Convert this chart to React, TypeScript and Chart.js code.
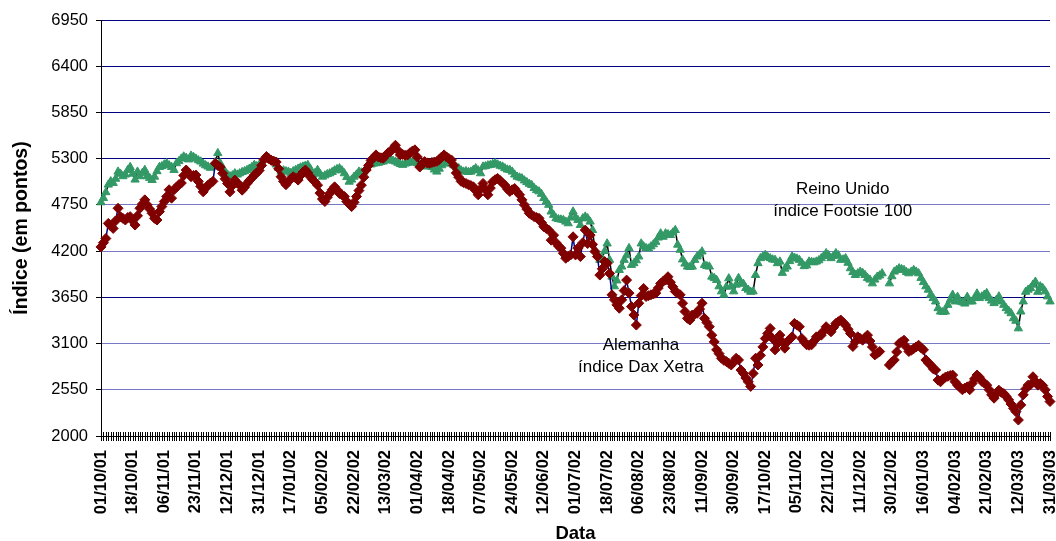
import React, { useEffect, useRef } from 'react';
import { Chart, registerables } from 'chart.js';

Chart.register(...registerables);

// ---- Data -------------------------------------------------------------
const START_DATE = [2001, 9, 1]; // 01/10/01, weekdays only
const TICK_EVERY = 13;
const TICK_LABELS = [
  '01/10/01', '18/10/01', '06/11/01', '23/11/01', '12/12/01', '31/12/01',
  '17/01/02', '05/02/02', '22/02/02', '13/03/02', '01/04/02', '18/04/02',
  '07/05/02', '24/05/02', '12/06/02', '01/07/02', '18/07/02', '06/08/02',
  '23/08/02', '11/09/02', '30/09/02', '17/10/02', '05/11/02', '22/11/02',
  '11/12/02', '30/12/02', '16/01/03', '04/02/03', '21/02/03', '12/03/03',
  '31/03/03',
];

const Y_MIN = 2000;
const Y_MAX = 6950;
const Y_STEP = 550;

// Reino Unido – índice Footsie 100
const FTSE = [
  4780, 4830, 4900, 4990, 5030, 5010, 5060, 5145, 5120, 5090,
  5110, 5165, 5200, 5120, 5050, 5145, 5090, 5130, 5165, 5090,
  5070, 5045, 5085, 5150, 5200, 5210, 5230, 5245, 5220, 5200,
  5165, 5245, 5270, 5300, 5325, 5310, 5290, 5335, 5320, 5300,
  5280, 5265, 5240, 5220, 5205, 5190, 5205, 5260, 5365, 5245,
  5190, 5145, 5110, 5090, 5100, 5125, 5110, 5125, 5140, 5150,
  5165, 5180, 5200, 5225, 5210, 5225, 5250, 5290, 5325, 5300,
  5280, 5265, 5230, 5190, 5145, 5160, 5150, 5145, 5130, 5150,
  5165, 5180, 5195, 5205, 5215, 5225, 5180, 5105, 5130, 5165,
  5120, 5085, 5100, 5115, 5125, 5140, 5160, 5175, 5185, 5160,
  5125, 5080, 5025, 5050, 5085, 5110, 5145, 5135, 5145, 5190,
  5245, 5230, 5240, 5245, 5250, 5260, 5265, 5280, 5300, 5290,
  5275, 5265, 5250, 5235, 5225, 5240, 5250, 5255, 5265, 5255,
  5245, 5230, 5215, 5205, 5215, 5225, 5200, 5170, 5145, 5180,
  5220, 5245, 5250, 5240, 5245, 5220, 5195, 5185, 5160, 5145,
  5150, 5140, 5145, 5165, 5185, 5160, 5125, 5205, 5210, 5220,
  5225, 5235, 5245, 5230, 5215, 5205, 5185, 5170, 5165, 5145,
  5110, 5085, 5075, 5065, 5040, 5020, 5000, 4985, 4950, 4925,
  4910, 4880, 4830, 4790, 4750, 4670, 4630, 4590, 4580, 4575,
  4570, 4550, 4530, 4600, 4670, 4600, 4570, 4510, 4590, 4610,
  4590, 4550, 4450, 4215, 4160, 4095, 4115, 4200, 4290, 4095,
  3895, 3780, 3850, 3975, 4015, 4095, 4150, 4235, 4035, 4055,
  4090, 4135, 4290, 4255, 4235, 4230, 4255, 4280, 4310, 4360,
  4410, 4370, 4410, 4400, 4390, 4420, 4450, 4275, 4215, 4100,
  4050, 4015, 4010, 4015, 4095, 4135, 4160, 4195, 4035, 4020,
  4015, 3895, 3880, 3855, 3780, 3720, 3680, 3775, 3875, 3780,
  3720, 3800, 3880, 3820, 3810, 3760, 3740, 3715, 3720, 3915,
  4055, 4115, 4135, 4155, 4130, 4115, 4100, 4095, 4055, 4075,
  3940, 3990, 4015, 4080, 4135, 4120, 4110, 4095, 4060, 4020,
  4030, 4075, 4070, 4065, 4075, 4090, 4115, 4140, 4175, 4150,
  4115, 4140, 4175, 4150, 4095, 4100, 4115, 4060, 3995, 3950,
  3915, 3935, 3955, 3940, 3915, 3880, 3860, 3815, 3860, 3895,
  3910, 3935, null, null, 3815, 3900, 3955, 3975, 3995, 3985,
  3975, 3950, 3935, 3955, 3975, 3955, 3935, 3880, 3830, 3780,
  3740, 3680, 3640, 3600, 3520, 3480, 3475, 3480, 3560, 3620,
  3680, 3600, 3655, 3600, 3590, 3575, 3655, 3600, 3600, 3640,
  3695, 3640, 3660, 3680, 3700, 3640, 3610, 3580, 3620, 3660,
  3600, 3560, 3520, 3490, 3460, 3400, 3370, 3280, 3480, 3600,
  3715, 3740, 3760, 3800, 3835, 3715, 3780, 3760, 3720, 3660,
  3600,
];

// Alemanha – índice Dax Xetra
const DAX = [
  4250, 4300, 4350, 4530, 4500, 4470, 4560, 4710, 4610, 4590,
  4570, 4600, 4610, 4560, 4510, 4620, 4710, 4760, 4810, 4750,
  4700, 4650, 4590, 4570, 4670, 4730, 4790, 4850, 4930, 4830,
  4930, 4960, 4990, 5010, 5100, 5165, 5130, 5085, 5100, 5105,
  5030, 4970, 4905, 4950, 4985, 5010, 5030, 5245, 5220, 5200,
  5125, 5060, 5005, 4905, 4980, 5045, 5010, 4985, 4925, 4960,
  5005, 5040, 5070, 5105, 5130, 5160, 5220, 5290, 5325, 5300,
  5280, 5270, 5260, 5180, 5085, 5030, 4990, 5030, 5060, 5085,
  5070, 5045, 5100, 5140, 5165, 5130, 5085, 5050, 5020, 4985,
  4890, 4820, 4790, 4840, 4885, 4930, 4965, 4930, 4885, 4870,
  4850, 4790, 4760, 4730, 4780, 4850, 4920, 4985, 5080, 5165,
  5220, 5280, 5310, 5345, 5320, 5310, 5305, 5340, 5370, 5385,
  5420, 5460, 5400, 5345, 5350, 5340, 5345, 5370, 5390, 5405,
  5320, 5200, 5240, 5265, 5250, 5245, 5255, 5260, 5265, 5290,
  5320, 5345, 5320, 5300, 5285, 5220, 5130, 5080, 5030, 5015,
  5005, 4990, 4980, 4965, 4920, 4870, 4940, 5005, 4930, 4870,
  4950, 5025, 5050, 5065, 5040, 5010, 4985, 4940, 4910, 4930,
  4945, 4905, 4870, 4810, 4750, 4700, 4650, 4630, 4610, 4600,
  4590, 4540, 4490, 4470, 4450, 4330, 4390, 4300, 4260, 4235,
  4175, 4115, 4135, 4155, 4370, 4155, 4235, 4135, 4300, 4450,
  4290, 4390, 4280, 4195, 4135, 3915, 3990, 4075, 4055, 3935,
  3680, 3620, 3560, 3520, 3620, 3730, 3855, 3700, 3540, 3440,
  3320, 3580, 3670, 3755, 3660, 3670, 3680, 3690, 3700, 3760,
  3815, 3840, 3855, 3895, 3830, 3775, 3720, 3700, 3680, 3580,
  3480, 3400, 3380, 3440, 3450, 3460, 3510, 3580, 3400, 3350,
  3300, 3200, 3120, 3025, 2980, 2925, 2900, 2885, 2865, 2845,
  2880, 2925, 2905, 2785, 2745, 2690, 2645, 2590, 2745, 2925,
  2845, 2960, 3060, 3160, 3220, 3280, 3160, 3025, 3100, 3200,
  3120, 3045, 3120, 3150, 3180, 3340, 3320, 3300, 3160, 3120,
  3085, 3080, 3085, 3130, 3180, 3190, 3200, 3250, 3300, 3270,
  3240, 3290, 3340, 3360, 3380, 3350, 3320, 3270, 3220, 3065,
  3120, 3180, 3160, 3140, 3170, 3200, 3130, 3060, 2965, 2985,
  3005, null, null, null, 2845, 2880, 2905, 3000, 3100, 3120,
  3140, 3060, 3005, 3020, 3040, 3060, 3080, 3050, 3025, 2905,
  2870, 2845, 2800, 2785, 2665, 2645, 2680, 2700, 2710, 2720,
  2725, 2645, 2605, 2580, 2550, 2570, 2585, 2550, 2625, 2680,
  2725, 2700, 2650, 2630, 2605, 2550, 2490, 2450, 2500, 2545,
  2520, 2505, 2470, 2430, 2380, 2330, 2290, 2190, 2370, 2490,
  2560, 2605, 2610, 2705, 2650, 2605, 2625, 2600, 2550, 2470,
  2410,
];

const ANNOTATIONS = [
  { index: 304.8, value: 4939, lines: ['Reino Unido', 'índice Footsie 100'] },
  { index: 221.9, value: 3083, lines: ['Alemanha', 'índice Dax Xetra'] },
];

const LIGHT_GRID = [4750, 4200, 3100, 2550];

// ---- Helpers ----------------------------------------------------------
function buildCategories(count: number): string[] {
  const out: string[] = [];
  const d = new Date(Date.UTC(START_DATE[0], START_DATE[1], START_DATE[2]));
  const pad = (n: number) => (n < 10 ? '0' + n : '' + n);
  while (out.length < count) {
    const wd = d.getUTCDay();
    if (wd !== 0 && wd !== 6) {
      out.push(pad(d.getUTCDate()) + '/' + pad(d.getUTCMonth() + 1) + '/' + pad(d.getUTCFullYear() % 100));
    }
    d.setUTCDate(d.getUTCDate() + 1);
  }
  return out;
}

const FONT = '"Liberation Sans", Arial, Helvetica, sans-serif';

const crossTicks = {
  id: 'crossTicks',
  afterDraw(chart: any) {
    const { ctx, scales } = chart;
    const x = scales.x;
    const yb = chart.chartArea.bottom;
    ctx.save();
    ctx.strokeStyle = '#000000';
    ctx.lineWidth = 1;
    ctx.beginPath();
    for (let i = 0; i < chart.data.labels.length; i++) {
      const px = Math.round(x.getPixelForValue(i)) + 0.5;
      ctx.moveTo(px, yb - 4);
      ctx.lineTo(px, yb + 5);
    }
    ctx.stroke();
    ctx.restore();
  },
};

const annotations = {
  id: 'textAnnotations',
  afterDatasetsDraw(chart: any) {
    const { ctx, scales } = chart;
    ctx.save();
    ctx.font = '17px ' + FONT;
    ctx.fillStyle = '#000000';
    ctx.textAlign = 'center';
    ctx.textBaseline = 'middle';
    for (const a of ANNOTATIONS) {
      const px = scales.x.getPixelForValue(a.index);
      const py = scales.y.getPixelForValue(a.value);
      a.lines.forEach((line, i) => ctx.fillText(line, px, py + i * 22));
    }
    ctx.restore();
  },
};

export default function App() {
  const ref = useRef<HTMLCanvasElement | null>(null);

  useEffect(() => {
    document.body.style.margin = '0';
    const canvas = ref.current;
    if (!canvas) return;
    const labels = buildCategories(FTSE.length);

    const chart = new Chart(canvas, {
      type: 'line',
      data: {
        labels,
        datasets: [
          {
            label: 'Reino Unido - índice Footsie 100',
            data: FTSE,
            borderColor: '#000000',
            borderWidth: 1.5,
            pointStyle: 'triangle',
            pointRadius: 4.8,
            pointBackgroundColor: '#339966',
            pointBorderColor: '#339966',
            pointBorderWidth: 1,
            spanGaps: false,
            tension: 0,
            order: 2,
          },
          {
            label: 'Alemanha - índice Dax Xetra',
            data: DAX,
            borderColor: '#000080',
            borderWidth: 1.5,
            pointStyle: 'rectRot',
            pointRadius: 5,
            pointBackgroundColor: '#800000',
            pointBorderColor: '#800000',
            pointBorderWidth: 1,
            spanGaps: false,
            tension: 0,
            order: 1,
          },
        ],
      },
      options: {
        animation: false,
        responsive: false,
        maintainAspectRatio: false,
        devicePixelRatio: 1,
        layout: { padding: { top: 20, left: 0, right: 3, bottom: 0 } },
        plugins: {
          legend: { display: false },
          tooltip: { enabled: false },
        },
        scales: {
          x: {
            type: 'category',
            offset: false,
            grid: { display: false, drawTicks: false },
            border: { display: true, color: '#000000', width: 1 },
            ticks: {
              autoSkip: false,
              minRotation: 90,
              maxRotation: 90,
              padding: 14,
              color: '#000000',
              font: { family: FONT, size: 16.5, weight: 'bold' },
              callback: (_v: any, i: number) => (i % TICK_EVERY === 0 ? TICK_LABELS[i / TICK_EVERY] : ''),
            },
            title: {
              display: true,
              text: 'Data',
              color: '#000000',
              font: { family: FONT, size: 18.5, weight: 'bold', lineHeight: 1 },
              padding: { top: 0, bottom: -2 },
            },
            afterFit: (s: any) => {
              s.height = 105;
              s.paddingLeft = 0;
              s.paddingRight = 0;
            },
          },
          y: {
            min: Y_MIN,
            max: Y_MAX,
            grid: {
              color: (c: any) => (LIGHT_GRID.includes(c.tick?.value) ? '#7878c4' : '#000080'),
              lineWidth: 1,
              drawTicks: true,
              tickLength: 5,
              tickColor: '#000000',
            },
            border: { display: true, color: '#000000', width: 1 },
            ticks: {
              stepSize: Y_STEP,
              padding: 8,
              color: '#000000',
              font: { family: FONT, size: 16.5 },
              callback: (v: any) => String(v),
            },
            title: {
              display: true,
              text: 'Índice (em pontos)',
              color: '#000000',
              font: { family: FONT, size: 19.5, weight: 'bold' },
              padding: { top: 10, bottom: 0 },
            },
            afterFit: (s: any) => {
              s.width = 101;
            },
          },
        },
      },
      plugins: [annotations, crossTicks],
    });

    return () => chart.destroy();
  }, []);

  return (
    <div style={{ width: 1056, height: 541, position: 'relative' }}>
      <canvas ref={ref} width={1056} height={541} style={{ width: 1056, height: 541, display: 'block' }} />
    </div>
  );
}
